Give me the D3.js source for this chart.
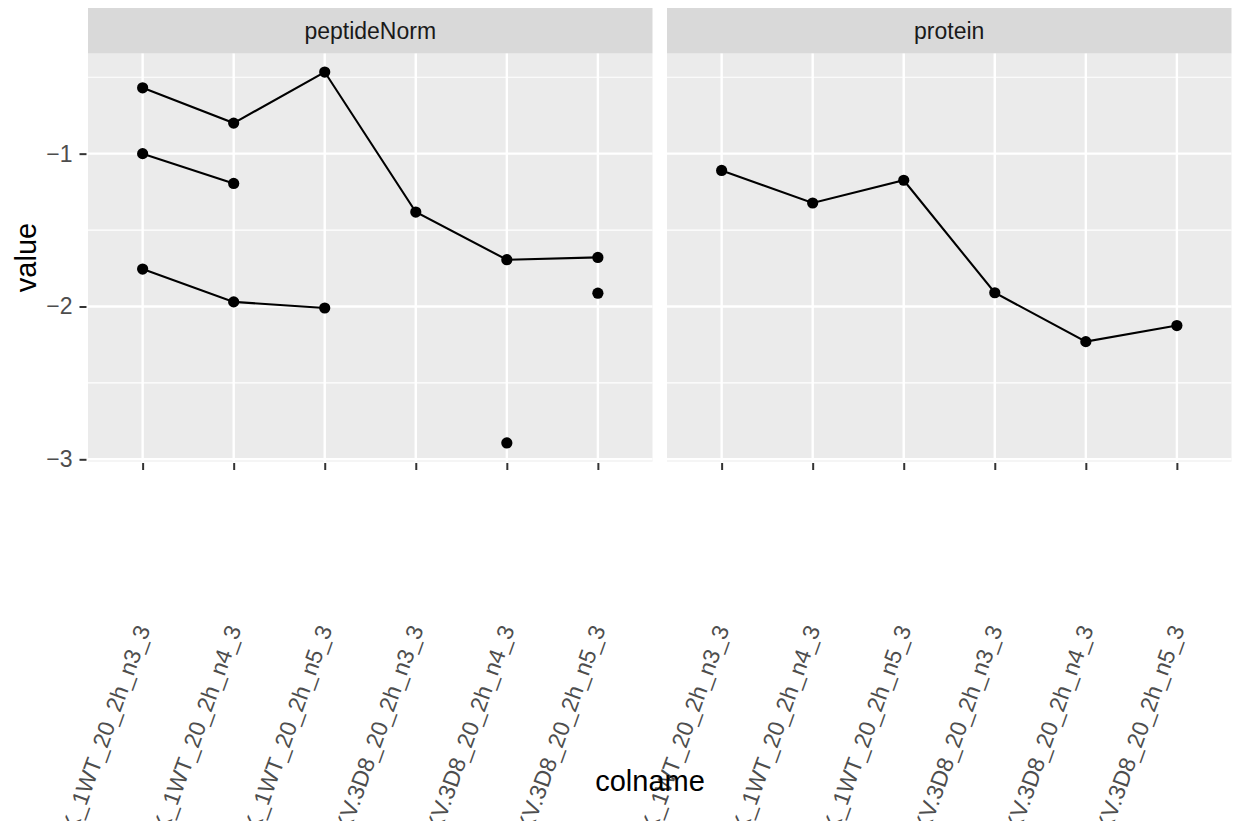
<!DOCTYPE html>
<html>
<head>
<meta charset="utf-8">
<script src="https://cdn.jsdelivr.net/npm/d3@7"></script>
<style>
  html, body { margin: 0; padding: 0; background: #ffffff; }
  svg { display: block; font-family: "Liberation Sans", Arial, sans-serif; }
</style>
</head>
<body>
<svg id="chart" width="1235" height="821"></svg>
<script>
// ---------- data ----------
const facets = ["peptideNorm", "protein"];
const categories = [
  "HEK_1WT_20_2h_n3_3", "HEK_1WT_20_2h_n4_3", "HEK_1WT_20_2h_n5_3",
  "HEKV.3D8_20_2h_n3_3", "HEKV.3D8_20_2h_n4_3", "HEKV.3D8_20_2h_n5_3"
];
// peptideNorm series (null = missing)
const pepA = [-0.569, -0.800, -0.466, -1.382, -1.694, -1.679];
const pepB = [-1.000, -1.195, null, null, null, null];
const pepC = [-1.755, -1.970, -2.010, null, null, null];
const pepD = [null, null, null, null, -2.893, null];
const pepE = [null, null, null, null, null, -1.913];
// protein series
const protA = [-1.110, -1.323, -1.174, -1.910, -2.230, -2.125];
const yTicks = [-3, -2, -1];
const yMinor = [-2.5, -1.5, -0.5];

const seriesByFacet = {
  peptideNorm: [pepA, pepB, pepC, pepD, pepE],
  protein: [protA]
};

// ---------- layout ----------
const svg = d3.select("#chart");
const panelTop = 53.5, panelBottom = 461.5;
const stripTop = 8;
const panelX = [[88, 652.5], [667, 1231.5]];
const tickFont = 23, titleFont = 29;

// y scale with ggplot-like 5% expansion
const allVals = [].concat(pepA, pepB, pepC, pepD, pepE, protA).filter(v => v != null);
const ext = d3.extent(allVals);
const pad = (ext[1] - ext[0]) * 0.05;
const y = d3.scaleLinear().domain([ext[0] - pad, ext[1] + pad]).range([panelBottom, panelTop]);

facets.forEach((f, i) => {
  const [x0, x1] = panelX[i];
  const x = d3.scalePoint().domain(categories).range([x0, x1]).padding(0.6);
  const g = svg.append("g");

  // panel background
  g.append("rect").attr("x", x0).attr("y", panelTop).attr("width", x1 - x0)
    .attr("height", panelBottom - panelTop).attr("fill", "#EBEBEB");
  // strip
  g.append("rect").attr("x", x0).attr("y", stripTop).attr("width", x1 - x0)
    .attr("height", panelTop - stripTop).attr("fill", "#D9D9D9");
  g.append("text").attr("x", (x0 + x1) / 2).attr("y", (stripTop + panelTop) / 2)
    .attr("dy", "0.35em").attr("text-anchor", "middle")
    .attr("font-size", tickFont).attr("fill", "#1A1A1A").text(f);

  // minor grid
  g.selectAll(".ymin").data(yMinor).enter().append("line")
    .attr("x1", x0).attr("x2", x1).attr("y1", d => y(d)).attr("y2", d => y(d))
    .attr("stroke", "#FFFFFF").attr("stroke-width", 1.2);
  // major grid
  g.selectAll(".ymaj").data(yTicks).enter().append("line")
    .attr("x1", x0).attr("x2", x1).attr("y1", d => y(d)).attr("y2", d => y(d))
    .attr("stroke", "#FFFFFF").attr("stroke-width", 2.4);
  g.selectAll(".xmaj").data(categories).enter().append("line")
    .attr("x1", d => x(d)).attr("x2", d => x(d)).attr("y1", panelTop).attr("y2", panelBottom)
    .attr("stroke", "#FFFFFF").attr("stroke-width", 2.4);

  // x axis ticks + labels
  const xAxis = d3.axisBottom(x).tickSize(7).tickSizeOuter(0).tickFormat(d => d);
  const ax = g.append("g").attr("transform", `translate(0,${panelBottom + 1.5})`).call(xAxis);
  ax.select(".domain").remove();
  ax.selectAll(".tick line").attr("stroke", "#333333").attr("stroke-width", 2);
  ax.selectAll(".tick text")
    .attr("font-size", tickFont).attr("fill", "#4D4D4D")
    .attr("text-anchor", "end")
    .attr("x", 0).attr("y", 0).attr("dy", 0)
    .attr("transform", "translate(7.5,166) rotate(-70)");

  // lines
  const line = d3.line().defined(d => d.v != null).x(d => x(d.c)).y(d => y(d.v));
  seriesByFacet[f].forEach(s => {
    const pts = s.map((v, j) => ({ c: categories[j], v }));
    g.append("path").datum(pts).attr("d", line).attr("fill", "none")
      .attr("stroke", "#000000").attr("stroke-width", 2.1);
    g.selectAll(null).data(pts.filter(p => p.v != null)).enter().append("circle")
      .attr("cx", p => x(p.c)).attr("cy", p => y(p.v)).attr("r", 5.6).attr("fill", "#000000");
  });

  // y axis on first panel only
  if (i === 0) {
    const yAxis = d3.axisLeft(y).tickValues(yTicks).tickSize(7).tickSizeOuter(0)
      .tickFormat(d => d3.format("d")(d).replace("-", "\u2212"));
    const ay = g.append("g").attr("transform", `translate(${x0 - 1.5},0)`).call(yAxis);
    ay.select(".domain").remove();
    ay.selectAll(".tick line").attr("stroke", "#333333").attr("stroke-width", 2);
    ay.selectAll(".tick text").attr("font-size", tickFont).attr("fill", "#4D4D4D").attr("x", -14);
  }
});

// axis titles
svg.append("text").attr("x", 650).attr("y", 791).attr("text-anchor", "middle")
  .attr("font-size", titleFont).attr("fill", "#000000").text("colname");
svg.append("text").attr("transform", `translate(36,${(panelTop + panelBottom) / 2}) rotate(-90)`)
  .attr("text-anchor", "middle").attr("font-size", titleFont).attr("fill", "#000000").text("value");
</script>
</body>
</html>
